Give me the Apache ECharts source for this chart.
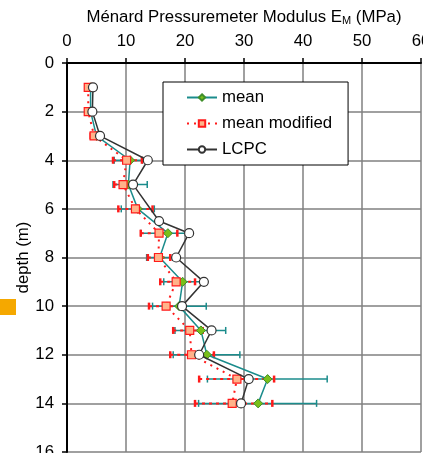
<!DOCTYPE html>
<html>
<head>
<meta charset="utf-8">
<script src="https://cdn.jsdelivr.net/npm/echarts@6/dist/echarts.min.js"></script>
<style>
html,body{margin:0;padding:0;background:#fff;}
#chart{width:423px;height:453px;}
</style>
</head>
<body>
<div id="chart"></div>
<script>
// ---- data ----
var depths    = [1, 2, 3, 4, 5, 6, 7, 8, 9, 10, 11, 12, 13, 14];
var meanE     = [4.0, 4.0, 5.0, 10.7, 10.4, 12.0, 17.1, 15.7, 19.6, 19.0, 22.7, 23.7, 34.0, 32.4];
var meanLow   = [3.7, 3.7, 4.5, 8.0, 7.8, 9.2, 12.5, 13.5, 16.4, 14.5, 18.3, 18.0, 23.8, 22.3];
var meanHigh  = [4.3, 4.3, 5.5, 12.8, 13.6, 14.8, 21.0, 17.9, 23.0, 23.6, 26.9, 29.3, 44.1, 42.3];
var modE      = [3.6, 3.6, 4.6, 10.1, 9.5, 11.6, 15.6, 15.5, 18.5, 16.8, 20.8, 21.1, 28.8, 28.0];
var modLow    = [3.3, 3.3, 4.0, 7.8, 8.0, 8.7, 12.5, 13.7, 15.8, 13.9, 18.0, 17.5, 22.4, 21.7];
var modHigh   = [3.9, 3.9, 5.2, 12.7, 11.0, 14.5, 18.7, 17.5, 21.7, 19.5, 23.0, 24.9, 35.1, 34.8];
var lcpcDepth = [1, 2, 3, 4, 5, 6.5, 7, 8, 9, 10, 11, 12, 13, 14];
var lcpcE     = [4.4, 4.3, 5.6, 13.7, 11.2, 15.6, 20.7, 18.5, 23.2, 19.5, 24.5, 22.4, 30.8, 29.5];
var xTicks = {min: 0, max: 60, interval: 10};
var yTicks = {min: 0, max: 16, interval: 2};

function pairs(xs, ys) { return xs.map(function (v, i) { return [v, ys[i]]; }); }
function triples(lo, hi, ys) { return lo.map(function (v, i) { return [v, hi[i], ys[i]]; }); }

var FONT = 'Liberation Sans, Arial, sans-serif';
var FS = 16.8;
var TEAL = '#1b8c8c';
var RED = '#ff1a1a';

function errRender(color, dash) {
  return function (params, api) {
    var lo = api.coord([api.value(0), api.value(2)]);
    var hi = api.coord([api.value(1), api.value(2)]);
    var h = 3.5;
    var st = {stroke: color, lineWidth: dash ? 2 : 1.5, lineDash: dash || null};
    var cap = {stroke: color, lineWidth: dash ? 2.5 : 1.5};
    return {type: 'group', children: [
      {type: 'line', shape: {x1: lo[0], y1: lo[1], x2: hi[0], y2: hi[1]}, style: st},
      {type: 'line', shape: {x1: lo[0], y1: lo[1] - h, x2: lo[0], y2: lo[1] + h}, style: cap},
      {type: 'line', shape: {x1: hi[0], y1: hi[1] - h, x2: hi[0], y2: hi[1] + h}, style: cap}
    ]};
  };
}

var chart = echarts.init(document.getElementById('chart'), null, {renderer: 'canvas'});
chart.setOption({
  animation: false,
  backgroundColor: '#fff',
  textStyle: {fontFamily: FONT},
  grid: {left: 67, top: 63, width: 354, height: 389, containLabel: false, outerBoundsMode: 'none'},
  graphic: [{type: 'rect', left: 0, top: 299, shape: {width: 16, height: 16}, style: {fill: '#f5a800'}}],
  legend: {
    data: ['mean', 'mean modified', 'LCPC'],
    orient: 'vertical',
    left: 163, top: 82,
    itemWidth: 30, itemHeight: 8, itemGap: 9,
    padding: [7, 16, 7, 23],
    backgroundColor: '#fff',
    borderColor: '#000', borderWidth: 1, borderRadius: 0,
    textStyle: {fontSize: FS, color: '#000', fontFamily: FONT}
  },
  xAxis: {
    type: 'value', position: 'top',
    min: xTicks.min, max: xTicks.max, interval: xTicks.interval,
    name: 'Ménard Pressuremeter Modulus E{sub|M} (MPa)',
    nameLocation: 'middle', nameGap: 37,
    nameTextStyle: {fontSize: FS, color: '#000', fontFamily: FONT,
      rich: {sub: {fontSize: 11, verticalAlign: 'bottom', padding: [6, 0, 0, 0], color: '#000', fontFamily: FONT}}},
    axisLine: {show: true, lineStyle: {color: '#000', width: 2}},
    axisTick: {show: true, length: 5, lineStyle: {color: '#000', width: 1.5}},
    axisLabel: {fontSize: FS, color: '#000', margin: 13, fontFamily: FONT},
    splitLine: {show: true, lineStyle: {color: '#808080', width: 1.5}}
  },
  yAxis: {
    type: 'value', inverse: true,
    min: yTicks.min, max: yTicks.max, interval: yTicks.interval,
    name: 'depth (m)', nameLocation: 'middle', nameGap: 35, nameMoveOverlap: false,
    nameTextStyle: {fontSize: FS, color: '#000', fontFamily: FONT},
    axisLine: {show: true, lineStyle: {color: '#000', width: 2}},
    axisTick: {show: true, length: 5, lineStyle: {color: '#000', width: 1.5}},
    axisLabel: {fontSize: FS, color: '#000', margin: 13, fontFamily: FONT},
    splitLine: {show: true, lineStyle: {color: '#808080', width: 1.5}}
  },
  series: [
    {type: 'custom', name: 'meanErr', renderItem: errRender(TEAL, null),
     encode: {x: [0, 1], y: 2}, data: triples(meanLow, meanHigh, depths), z: 2},
    {type: 'custom', name: 'modErr', renderItem: errRender(RED, [3, 4]),
     encode: {x: [0, 1], y: 2}, data: triples(modLow, modHigh, depths), z: 3},
    {type: 'line', name: 'mean', data: pairs(meanE, depths), z: 4,
     symbol: 'diamond', symbolSize: 9,
     lineStyle: {color: TEAL, width: 1.5},
     itemStyle: {color: '#79bf1a', borderColor: '#3f8f2a', borderWidth: 1},
     color: TEAL},
    {type: 'line', name: 'mean modified', data: pairs(modE, depths), z: 5,
     symbol: 'rect', symbolSize: 8,
     lineStyle: {color: RED, width: 2, type: [2, 5]},
     itemStyle: {color: '#ffb38a', borderColor: RED, borderWidth: 1.2},
     color: RED},
    {type: 'line', name: 'LCPC', data: pairs(lcpcE, lcpcDepth), z: 6,
     symbol: 'circle', symbolSize: 9,
     lineStyle: {color: '#333', width: 1.5},
     itemStyle: {color: '#fff', borderColor: '#333', borderWidth: 1.2},
     color: '#333'}
  ]
});
</script>
</body>
</html>
